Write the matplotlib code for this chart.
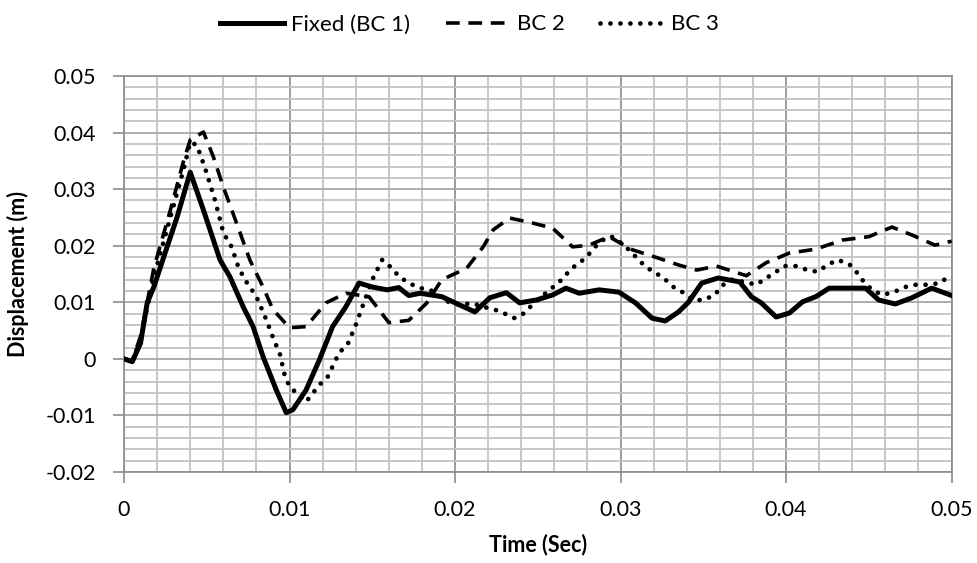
import matplotlib.pyplot as plt
from matplotlib.ticker import MultipleLocator

# Fixed (BC 1)
t1 = [0, 0.0005, 0.001, 0.0014, 0.0018, 0.0024, 0.0032, 0.004, 0.0048, 0.0058, 0.0064,
      0.0072, 0.0078, 0.0084, 0.0092, 0.0098, 0.0102, 0.011, 0.0118, 0.0126, 0.0134,
      0.0142, 0.015, 0.0159, 0.0166, 0.0172, 0.0179, 0.0192, 0.0203, 0.0212, 0.0221,
      0.0231, 0.0239, 0.0249, 0.0259, 0.0267, 0.0275, 0.0287, 0.0299, 0.0309, 0.0319,
      0.0327, 0.0335, 0.0341, 0.0349, 0.0359, 0.0372, 0.0379, 0.0385, 0.0394, 0.0402,
      0.041, 0.0418, 0.0426, 0.0436, 0.0448, 0.0456, 0.0466, 0.0476, 0.0488, 0.05]
y1 = [0, -0.0005, 0.0028, 0.0099, 0.0127, 0.018, 0.025, 0.033, 0.0263, 0.0175, 0.0145,
      0.0092, 0.0057, 0.0004, -0.0055, -0.0095, -0.009, -0.0055, -0.0002, 0.0057, 0.0092,
      0.0134, 0.0127, 0.0122, 0.0126, 0.0112, 0.0116, 0.011, 0.0095, 0.0083, 0.0108,
      0.0117, 0.0099, 0.0104, 0.0113, 0.0125, 0.0116, 0.0122, 0.0118, 0.0099, 0.0072,
      0.0067, 0.0083, 0.0100, 0.0134, 0.0143, 0.0136, 0.011, 0.0099, 0.0074, 0.0081,
      0.0101, 0.011, 0.0125, 0.0125, 0.0125, 0.0104, 0.0097, 0.0108, 0.0125, 0.0112]

# BC 2
t2 = [0, 0.0005, 0.001, 0.0018, 0.0028, 0.0036, 0.004, 0.0048, 0.0054, 0.006, 0.0068,
      0.0076, 0.0084, 0.009, 0.01, 0.011, 0.0122, 0.0134, 0.0148, 0.016, 0.0172, 0.0183,
      0.0192, 0.0207, 0.0217, 0.0223, 0.0233, 0.0247, 0.0259, 0.0271, 0.0281, 0.0293,
      0.0307, 0.0323, 0.0335, 0.0346, 0.0358, 0.0376, 0.0388, 0.0402, 0.0418, 0.0434,
      0.045, 0.0464, 0.0476, 0.049, 0.05]
y2 = [0, -0.0003, 0.004, 0.016, 0.0263, 0.035, 0.0387, 0.0401, 0.0357, 0.0304, 0.024,
      0.0175, 0.0127, 0.0087, 0.0055, 0.0057, 0.0099, 0.0116, 0.011, 0.0064, 0.0068, 0.0099,
      0.014, 0.016, 0.0198, 0.0228, 0.0249, 0.024, 0.0231, 0.0198, 0.0201, 0.0216,
      0.0193, 0.0178, 0.0166, 0.0157, 0.0164, 0.0147, 0.017, 0.0187, 0.0194, 0.021,
      0.0216, 0.0233, 0.0219, 0.0201, 0.0208]

# BC 3
t3 = [0, 0.0005, 0.001, 0.0018, 0.0028, 0.0036, 0.004, 0.0044, 0.0049, 0.0055, 0.006,
      0.0065, 0.0069, 0.0073, 0.008, 0.0086, 0.0091, 0.0094, 0.0097, 0.01, 0.011, 0.0118,
      0.0123, 0.013, 0.0135, 0.014, 0.0145, 0.015, 0.0156, 0.0162, 0.0166, 0.0172, 0.0179,
      0.0185, 0.0191, 0.0197, 0.0204, 0.021, 0.0217, 0.0224, 0.023, 0.0236, 0.0242,
      0.0247, 0.0258, 0.0263, 0.0268, 0.0273, 0.0279, 0.0283, 0.0288, 0.0294, 0.0299,
      0.0305, 0.031, 0.0315, 0.0321, 0.0326, 0.0332, 0.0338, 0.0344, 0.035, 0.0357,
      0.0361, 0.0367, 0.0375, 0.0382, 0.0387, 0.0393, 0.0399, 0.0406, 0.0413, 0.0419,
      0.0425, 0.0431, 0.0438, 0.0443, 0.0447, 0.0452, 0.0458, 0.0465, 0.0472, 0.0478,
      0.0486, 0.0493, 0.05]
y3 = [0, -0.0003, 0.0035, 0.0145, 0.025, 0.0335, 0.0383, 0.0378, 0.0337, 0.028, 0.0223,
      0.0198, 0.0163, 0.014, 0.011, 0.0069, 0.003, 0.0011, -0.0028, -0.0049, -0.0076, -0.0046,
      -0.0032, 0.0011, 0.0025, 0.006, 0.01, 0.014, 0.0175, 0.016, 0.0146, 0.0134, 0.0125,
      0.0122, 0.011, 0.0099, 0.0095, 0.0099, 0.0092, 0.0087, 0.008, 0.0072, 0.0081,
      0.0097, 0.0124, 0.0136, 0.0152, 0.0166, 0.0178, 0.0193, 0.0208, 0.0217, 0.0208,
      0.0193, 0.0178, 0.0163, 0.0152, 0.0143, 0.0127, 0.0117, 0.0104, 0.0104, 0.0113,
      0.0129, 0.014, 0.0136, 0.0131, 0.0141, 0.0152, 0.0164, 0.0164, 0.0157, 0.0154,
      0.0166, 0.0175, 0.0168, 0.0152, 0.0136, 0.0122, 0.0113, 0.0118, 0.0127, 0.0131,
      0.0131, 0.0134, 0.015]

xticks = [0, 0.01, 0.02, 0.03, 0.04, 0.05]
xlabels = ['0', '0.01', '0.02', '0.03', '0.04', '0.05']
yticks = [-0.02, -0.01, 0, 0.01, 0.02, 0.03, 0.04, 0.05]
ylabels = ['-0.02', '-0.01', '0', '0.01', '0.02', '0.03', '0.04', '0.05']

plt.rcParams['font.family'] = ['Lato', 'DejaVu Sans']

fig = plt.figure(figsize=(9.78, 5.63), dpi=100)
ax = fig.add_axes([0.1268, 0.1616, 0.8462, 0.7034])

ax.plot(t1, y1, color='black', lw=3.6, label='Fixed (BC 1)', solid_joinstyle='round', zorder=3)
ax.plot(t2, y2, color='black', lw=2.6, linestyle=(0, (3.8, 2.4)), dash_joinstyle='round',
        label='BC 2', zorder=3)
ax.plot(t3, y3, color='black', lw=3.4, linestyle=(0, (0.01, 2.1)), dash_capstyle='round',
        label='BC 3', zorder=3)

ax.set_xlim(0, 0.05)
ax.set_ylim(-0.02, 0.05)
ax.xaxis.set_minor_locator(MultipleLocator(0.002))
ax.yaxis.set_minor_locator(MultipleLocator(0.002))
ax.set_xticks(xticks, xlabels)
ax.set_yticks(yticks, ylabels)

ax.grid(which='minor', color='#c4c4c4', lw=1.3)
ax.grid(which='major', axis='x', color='#8c8c8c', lw=1.2)
ax.grid(which='major', axis='y', color='#a6a6a6', lw=1.3)
ax.set_axisbelow(True)

for s in ax.spines.values():
    s.set_color('#8c8c8c')
    s.set_linewidth(1.2)
ax.tick_params(which='major', direction='out', length=8, color='#8c8c8c', width=1.2,
               labelsize=15.5, pad=12)
ax.tick_params(which='minor', length=0)

ax.set_xlabel('Time (Sec)', fontsize=15.5, fontweight='bold', labelpad=10)
ax.set_ylabel('Displacement (m)', fontsize=15.5, fontweight='bold', labelpad=12)

fig.legend(loc='upper center', bbox_to_anchor=(0.48, 1.01), ncol=3, frameon=False,
           fontsize=16, handlelength=2.9, columnspacing=1.6, handletextpad=0.3)

fig.savefig('out.png', dpi=100)
